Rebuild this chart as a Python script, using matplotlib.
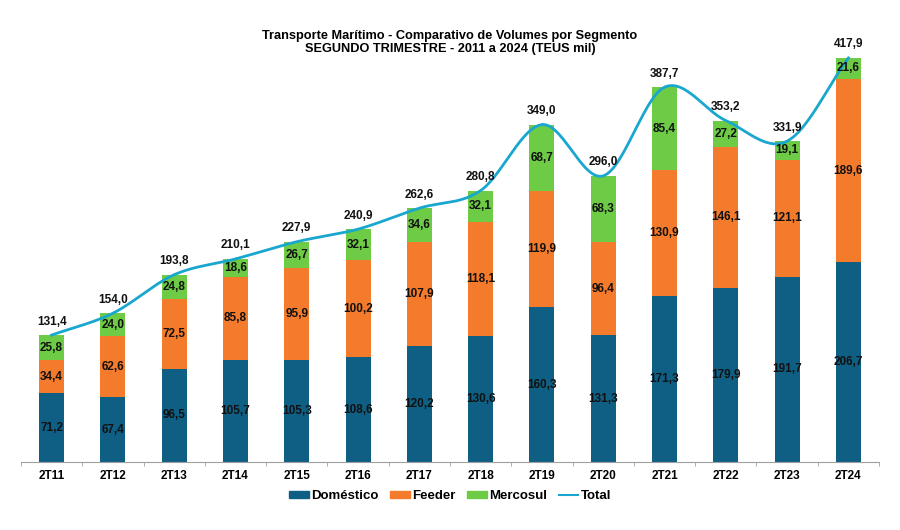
import numpy as np
import matplotlib
matplotlib.use('Agg')
from matplotlib import pyplot as plt
from matplotlib.patches import Patch
from matplotlib.lines import Line2D

plt.rcParams['font.family'] = ['Liberation Sans', 'DejaVu Sans']

periods = ['2T11', '2T12', '2T13', '2T14', '2T15', '2T16', '2T17',
           '2T18', '2T19', '2T20', '2T21', '2T22', '2T23', '2T24']
domestico = [71.2, 67.4, 96.5, 105.7, 105.3, 108.6, 120.2,
             130.6, 160.3, 131.3, 171.3, 179.9, 191.7, 206.7]
feeder = [34.4, 62.6, 72.5, 85.8, 95.9, 100.2, 107.9,
          118.1, 119.9, 96.4, 130.9, 146.1, 121.1, 189.6]
mercosul = [25.8, 24.0, 24.8, 18.6, 26.7, 32.1, 34.6,
            32.1, 68.7, 68.3, 85.4, 27.2, 19.1, 21.6]
total = [131.4, 154.0, 193.8, 210.1, 227.9, 240.9, 262.6,
         280.8, 349.0, 296.0, 387.7, 353.2, 331.9, 417.9]

c_dom = '#0F5F84'
c_fee = '#F47B2B'
c_mer = '#6DCB45'
c_tot = '#19A7CF'


def fmt(v):
    return ('%.1f' % v).replace('.', ',')


def smooth(x, y, n=30):
    # catmull-rom curve through the points, like the excel smoothed line
    x = np.asarray(x, float)
    y = np.asarray(y, float)
    px = np.concatenate([[2 * x[0] - x[1]], x, [2 * x[-1] - x[-2]]])
    py = np.concatenate([[2 * y[0] - y[1]], y, [2 * y[-1] - y[-2]]])
    xs, ys = [], []
    for i in range(1, len(px) - 2):
        t = np.linspace(0, 1, n)
        for p, out in ((px, xs), (py, ys)):
            p0, p1, p2, p3 = p[i - 1], p[i], p[i + 1], p[i + 2]
            out.append(0.5 * ((2 * p1) + (-p0 + p2) * t
                              + (2 * p0 - 5 * p1 + 4 * p2 - p3) * t ** 2
                              + (-p0 + 3 * p1 - 3 * p2 + p3) * t ** 3))
    return np.concatenate(xs), np.concatenate(ys)


fig = plt.figure(figsize=(9, 5.3), dpi=100)
ax = fig.add_axes([0.0233, 0.128, 0.9534, 0.803])

x = np.arange(len(periods))
w = 0.41
dom = np.array(domestico)
fee = np.array(feeder)
mer = np.array(mercosul)

ax.bar(x, dom, w, color=c_dom, zorder=2)
ax.bar(x, fee, w, bottom=dom, color=c_fee, zorder=2)
ax.bar(x, mer, w, bottom=dom + fee, color=c_mer, zorder=2)

sx, sy = smooth(x, total)
ax.plot(sx, sy, color=c_tot, lw=2, zorder=3)

lab = dict(ha='center', va='center', fontsize=8.5, fontweight='bold', zorder=4)
for i in x:
    ax.text(i, dom[i] / 2, fmt(dom[i]), color='#111111', **lab)
    ax.text(i, dom[i] + fee[i] / 2, fmt(fee[i]), color='#111111', **lab)
    ax.text(i, dom[i] + fee[i] + mer[i] / 2, fmt(mer[i]), color='#111111', **lab)
    ax.text(i, dom[i] + fee[i] + mer[i] + 14, fmt(total[i]), color='#111111', **lab)

ax.set_xlim(-0.5, len(periods) - 0.5)
ax.set_ylim(0, 440)
ax.set_yticks([])
for s in ['top', 'right', 'left']:
    ax.spines[s].set_visible(False)
ax.spines['bottom'].set_color('#A0A0A0')

ax.set_xticks(x)
ax.set_xticklabels(periods, fontsize=8.5, fontweight='bold')
ax.tick_params(axis='x', which='major', length=0, pad=6)
ax.set_xticks(np.arange(-0.5, len(periods)), minor=True)
ax.tick_params(axis='x', which='minor', length=3, color='#A0A0A0')

fig.suptitle('Transporte Marítimo - Comparativo de Volumes por Segmento\n'
             'SEGUNDO TRIMESTRE - 2011 a 2024 (TEUS mil)',
             x=0.5, y=0.944, fontsize=9.2, fontweight='bold', linespacing=1.15)

handles = [Patch(color=c_dom, label='Doméstico'),
           Patch(color=c_fee, label='Feeder'),
           Patch(color=c_mer, label='Mercosul'),
           Line2D([], [], color=c_tot, lw=1.5, label='Total')]
fig.legend(handles=handles, loc='center', bbox_to_anchor=(0.5, 0.064), ncol=4,
           frameon=False, prop={'size': 9.5, 'weight': 'bold'},
           handlelength=1.5, handleheight=0.45, handletextpad=0.15, columnspacing=0.9)

fig.savefig('out.png', dpi=100)
